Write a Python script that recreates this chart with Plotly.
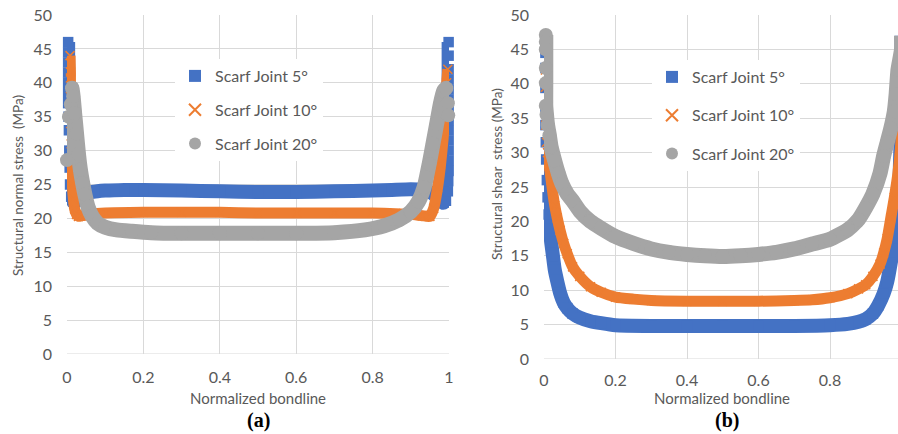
import plotly.graph_objects as go

# ---------------- DATA ----------------
series_names = ["Scarf Joint 5°", "Scarf Joint 10°", "Scarf Joint 20°"]
x_tick_vals = [0, 0.2, 0.4, 0.6, 0.8, 1]
y_tick_vals = [0, 5, 10, 15, 20, 25, 30, 35, 40, 45, 50]

# (a) Structural normal stress (MPa)
normal_x_5 = [0.003, 0.003, 0.003, 0.003, 0.003, 0.003, 0.003, 0.004, 0.005, 0.006, 0.007, 0.008,
              0.011, 0.016, 0.022, 0.03, 0.045, 0.06, 0.08, 0.1, 0.15,
              0.2, 0.3, 0.4, 0.5, 0.6, 0.7, 0.8, 0.85, 0.9, 0.93, 0.95, 0.965, 0.975, 0.985, 0.992,
              0.997, 0.998, 0.999, 0.999, 0.999, 0.999, 0.999, 0.999, 0.999, 0.999, 0.999, 0.999,
              0.999, 0.999, 0.999]
normal_y_5 = [46, 44.5, 43, 41.5, 40, 38.5, 37, 35, 33, 30, 27.5, 25,
              23.2, 22.5, 22.5, 22.9, 23.4, 23.8, 24.0, 24.1, 24.2,
              24.2, 24.1, 24.0, 23.9, 23.9, 24.0, 24.1, 24.2, 24.3, 24.2, 23.9, 23.3, 22.7, 22.3, 22.6,
              24, 25.5, 27, 28.5, 30, 31.5, 33, 34.5, 36, 37.5, 39, 40.5, 42, 44, 46]

normal_x_10 = [0.008, 0.009, 0.009, 0.009, 0.01, 0.011, 0.012, 0.014, 0.017, 0.02, 0.025, 0.03, 0.04,
               0.06, 0.1, 0.2, 0.3, 0.4, 0.5, 0.6, 0.7, 0.8, 0.86, 0.9, 0.93, 0.95, 0.96, 0.97,
               0.978, 0.985, 0.99, 0.994, 0.997]
normal_y_10 = [44, 41.6, 40.7, 38, 34, 31, 28, 25, 22.8, 21.4, 20.6, 20.3, 20.4,
               20.6, 20.8, 20.9, 20.9, 20.9, 20.8, 20.8, 20.8, 20.8, 20.7, 20.6, 20.4, 20.3, 21.5, 24.5,
               28, 32, 36, 40, 42]

normal_x_20 = [0.0, 0.005, 0.01, 0.013, 0.016, 0.02, 0.025, 0.03, 0.035, 0.041, 0.047, 0.055, 0.065,
               0.08, 0.1, 0.13, 0.17, 0.22, 0.3, 0.4, 0.5, 0.6, 0.7, 0.78, 0.83, 0.87, 0.9, 0.92,
               0.935, 0.948, 0.958, 0.968, 0.977, 0.986, 0.993, 0.997, 0.998]
normal_y_20 = [28.6, 35, 36.8, 39.2, 38, 35.5, 32.5, 29.5, 27.2, 25.2, 23.5, 21.7, 20.4,
               19.3, 18.7, 18.3, 18.1, 17.9, 17.8, 17.8, 17.8, 17.8, 17.9, 18.3, 18.9, 19.8, 21.0, 22.5,
               24.6, 28, 31, 34, 36.8, 38.8, 39.2, 37, 35.2]

# (b) Structural shear stress (MPa)
shear_x_5 = [0.004, 0.004, 0.004, 0.004, 0.004, 0.004, 0.005, 0.006, 0.008, 0.01, 0.013, 0.016,
             0.02, 0.025, 0.03, 0.037, 0.045, 0.055, 0.065, 0.08, 0.1, 0.13, 0.16, 0.2, 0.3, 0.4,
             0.5, 0.6, 0.7, 0.8, 0.85, 0.88, 0.9, 0.92, 0.935, 0.95, 0.96, 0.97, 0.98, 0.99,
             0.995, 1, 1, 1, 1]
shear_y_5 = [46, 44.5, 42.3, 39.4, 36, 34, 31.5, 29, 26, 23.5, 21, 19, 17, 15, 13, 11.3, 9.6,
             8.2, 7.4, 6.6, 6.0, 5.5, 5.2, 4.9, 4.8, 4.8, 4.8, 4.8, 4.8, 4.9, 5.1, 5.4, 5.8,
             6.6, 7.8, 9.5, 11.2, 14, 17.5, 22.5, 27, 38, 42, 44.5, 47]

shear_x_10 = [0.004, 0.004, 0.004, 0.004, 0.005, 0.007, 0.01, 0.015, 0.02, 0.025, 0.03, 0.037,
              0.045, 0.055, 0.065, 0.08, 0.1, 0.13, 0.16, 0.2, 0.25, 0.3, 0.4, 0.5, 0.6, 0.7,
              0.75, 0.8, 0.85, 0.88, 0.9, 0.92, 0.94, 0.95, 0.96, 0.97, 0.98, 0.99, 1, 1, 1]
shear_y_10 = [45, 42, 39.5, 36, 34, 31.5, 30, 28, 26, 24, 22.3, 20.5, 18.7, 16.8, 15.3, 13.4,
              12, 10.5, 9.7, 9.0, 8.7, 8.5, 8.4, 8.4, 8.4, 8.5, 8.6, 8.9, 9.5, 10.2, 10.8, 12,
              13.8, 15.4, 17.5, 20.5, 23.5, 27, 33, 39.5, 42]

shear_x_20 = [0.005, 0.005, 0.005, 0.005, 0.005, 0.005, 0.007, 0.01, 0.015, 0.02, 0.03, 0.04,
              0.05, 0.065, 0.08, 0.1, 0.13, 0.16, 0.2, 0.25, 0.3, 0.35, 0.4, 0.45, 0.5, 0.55,
              0.6, 0.65, 0.7, 0.75, 0.8, 0.85, 0.88, 0.9, 0.92, 0.94, 0.95, 0.96, 0.97, 0.98,
              0.985, 0.99, 1, 1]
shear_y_20 = [47.1, 46.1, 45, 42.3, 40.1, 36.8, 35.5, 34, 32.5, 30.8, 28.8, 27, 25.5,
              24, 23, 21.5, 20, 19, 17.8, 16.8, 16.0, 15.5, 15.2, 15.0, 14.9, 15.0, 15.2, 15.5,
              16.0, 16.7, 17.4, 18.8, 20.3, 22, 24, 27, 29.5, 31.5, 33.5, 36, 38.5, 42,
              45, 47]

# ---------------- STYLE ----------------
colors = ["#4472C4", "#ED7D31", "#A5A5A5"]
band_widths = [14, 11, 15]
grid_color = "#D9D9D9"
text_color = "#595959"
font_family = "Lato, 'Open Sans', sans-serif"

fig = go.Figure()

panels = [
    ("x", "y", "legend", [(normal_x_5, normal_y_5), (normal_x_10, normal_y_10), (normal_x_20, normal_y_20)]),
    ("x2", "y2", "legend2", [(shear_x_5, shear_y_5), (shear_x_10, shear_y_10), (shear_x_20, shear_y_20)]),
]

marker_styles = [
    dict(symbol="square", size=10.5, color=colors[0]),
    dict(symbol="x-thin", size=9, color=colors[1], line=dict(color=colors[1], width=1.6)),
    dict(symbol="circle", size=14, color=colors[2]),
]

for xa, ya, lg, data in panels:
    for i, (xs, ys) in enumerate(data):
        fig.add_trace(go.Scatter(
            x=xs, y=ys, xaxis=xa, yaxis=ya, mode="lines",
            line=dict(color=colors[i], width=band_widths[i], shape="spline", smoothing=0.5),
            showlegend=False, hoverinfo="skip", cliponaxis=False,
        ))
        fig.add_trace(go.Scatter(
            x=xs, y=ys, xaxis=xa, yaxis=ya, mode="markers",
            marker=marker_styles[i], name=series_names[i],
            legend=lg, legendgroup=f"{lg}{i}", cliponaxis=False,
        ))

axis_common = dict(
    showgrid=True, gridcolor=grid_color, gridwidth=1,
    zeroline=False, showline=False, ticks="", automargin=False,
    tickfont=dict(family=font_family, size=16, color=text_color),
)

W, H = 898, 434
legend_font = dict(family=font_family, size=16, color=text_color)
fig.update_layout(
    width=W, height=H,
    margin=dict(l=0, r=0, t=0, b=0),
    paper_bgcolor="white", plot_bgcolor="white",
    xaxis=dict(domain=[67 / W, 449 / W], range=[0, 1], tickvals=x_tick_vals,
               anchor="y", ticklabelstandoff=12, **axis_common),
    yaxis=dict(domain=[(H - 354) / H, (H - 15) / H], range=[0, 50], tickvals=y_tick_vals,
               anchor="x", ticklabelstandoff=14, **axis_common),
    xaxis2=dict(domain=[544 / W, 1.0], range=[0, 354 / 357.5], tickvals=x_tick_vals,
                anchor="y2", ticklabelstandoff=10, **axis_common),
    yaxis2=dict(domain=[(H - 359) / H, (H - 15) / H], range=[0, 50], tickvals=y_tick_vals,
                anchor="x2", ticklabelstandoff=14, **axis_common),
    legend=dict(x=175 / W, y=(H - 59) / H, xanchor="left", yanchor="top",
                bgcolor="white", borderwidth=0, tracegroupgap=10, itemsizing="constant",
                font=legend_font),
    legend2=dict(x=652 / W, y=(H - 60) / H, xanchor="left", yanchor="top",
                 bgcolor="white", borderwidth=0, tracegroupgap=14.5, itemsizing="constant",
                 font=legend_font),
)

# bottom (zero) axis lines
fig.add_shape(type="line", xref="x", yref="y", x0=0, x1=1, y0=0, y1=0,
              line=dict(color=grid_color, width=1), layer="below")
fig.add_shape(type="line", xref="x2", yref="y2", x0=0, x1=354 / 357.5, y0=0, y1=0,
              line=dict(color=grid_color, width=1), layer="below")

ytitle_font = dict(family=font_family, size=13.5, color=text_color)
xtitle_font = dict(family=font_family, size=15, color=text_color)
centered = dict(xref="paper", yref="paper", showarrow=False, xanchor="center", yanchor="middle")
fig.add_annotation(text="Structural normal stress  (MPa)", x=18 / W, y=(H - 186) / H,
                   textangle=-90, font=ytitle_font, **centered)
fig.add_annotation(text="Structural shear  stress (MPa)", x=497 / W, y=(H - 174) / H,
                   textangle=-90, font=ytitle_font, **centered)
fig.add_annotation(text="Normalized bondline", x=258 / W, y=(H - 398) / H,
                   font=xtitle_font, **centered)
fig.add_annotation(text="Normalized bondline", x=722 / W, y=(H - 398) / H,
                   font=xtitle_font, **centered)

lab_font = dict(family="'Liberation Serif', 'Times New Roman', serif", size=20, color="black")
fig.add_annotation(text="<b>(a)</b>", x=258 / W, y=(H - 420) / H, font=lab_font, **centered)
fig.add_annotation(text="<b>(b)</b>", x=727 / W, y=(H - 420) / H, font=lab_font, **centered)

fig.write_html(
    "out.html",
    config={"displayModeBar": False},
    post_script="document.body.style.margin='0';document.body.style.overflow='hidden';",
)
